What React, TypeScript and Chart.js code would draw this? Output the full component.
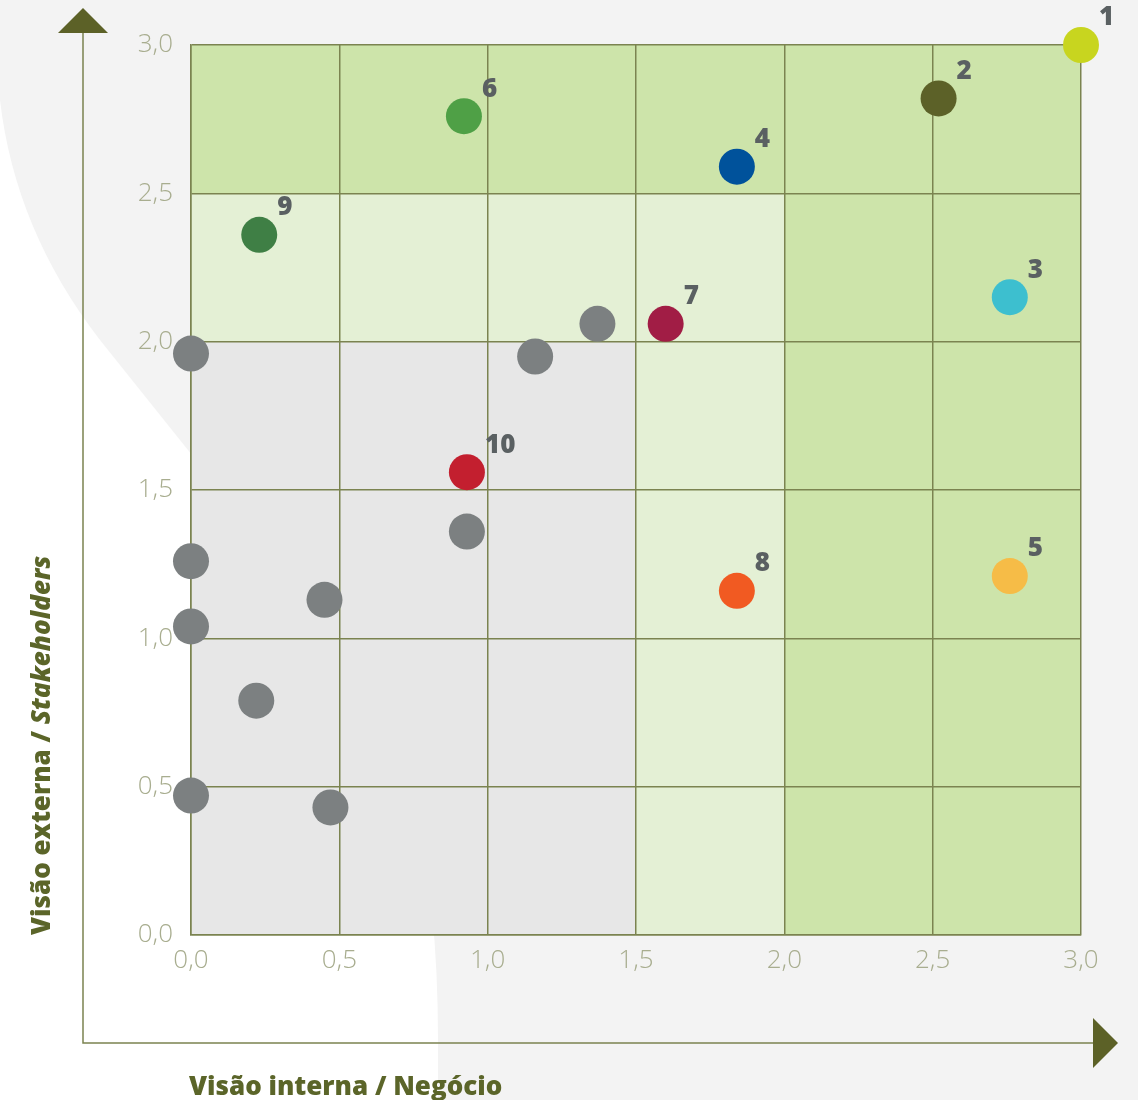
import { useEffect, useRef } from 'react';
import { Chart, registerables } from 'chart.js';

Chart.register(...registerables);

// ---- Data ----
const numberedLabels = ['1', '2', '3', '4', '5', '6', '7', '8', '9', '10'];
const numberedX = [3.0, 2.52, 2.76, 1.84, 2.76, 0.92, 1.6, 1.84, 0.23, 0.93];
const numberedY = [3.0, 2.82, 2.15, 2.59, 1.21, 2.76, 2.06, 1.16, 2.36, 1.56];
const numberedColors = [
  '#c8d51f', '#5c6128', '#3dbfcf', '#00529b', '#f6bc47',
  '#4fa046', '#a11d45', '#f15a22', '#3f7f45', '#c31f2f',
];

const otherX = [0, 1.16, 1.37, 0.93, 0, 0.45, 0, 0.22, 0, 0.47];
const otherY = [1.96, 1.95, 2.06, 1.36, 1.26, 1.13, 1.04, 0.79, 0.47, 0.43];

// Zones (data space), painted in order
const zoneX0 = [0, 0, 0];
const zoneX1 = [3, 2, 1.5];
const zoneY0 = [0, 0, 0];
const zoneY1 = [3, 2.5, 2];
const zoneColors = ['#cde4aa', '#e4f0d5', '#e7e7e7'];

const axisMin = 0;
const axisMax = 3;
const axisStep = 0.5;

const xTitle = 'Visão interna / Negócio';
const yTitleA = 'Visão externa / ';
const yTitleB = 'Stakeholders';

const GRID = '#7b8350';
const OLIVE = '#5c6127';
const TITLE = '#5b6529';
const TITLE_FONT = '"Open Sans", "Noto Sans", sans-serif';

const fmt = (v: number | string) => Number(v).toFixed(1).replace('.', ',');

const decorPlugin = {
  id: 'decor',
  beforeDraw(chart: any) {
    const { ctx, scales } = chart;
    const x = scales.x;
    const y = scales.y;
    ctx.save();
    ctx.fillStyle = '#f3f3f3';
    ctx.fillRect(0, 0, chart.width, chart.height);
    // white swoosh
    ctx.fillStyle = '#ffffff';
    ctx.beginPath();
    ctx.moveTo(0, 100);
    ctx.quadraticCurveTo(15, 230, 100, 340);
    ctx.lineTo(340, 640);
    ctx.quadraticCurveTo(438, 762, 438, 1040);
    ctx.lineTo(438, 1100);
    ctx.lineTo(0, 1100);
    ctx.closePath();
    ctx.fill();
    // zones
    for (let i = 0; i < zoneColors.length; i++) {
      const l = x.getPixelForValue(zoneX0[i]);
      const r = x.getPixelForValue(zoneX1[i]);
      const t = y.getPixelForValue(zoneY1[i]);
      const b = y.getPixelForValue(zoneY0[i]);
      ctx.fillStyle = zoneColors[i];
      ctx.fillRect(l, t, r - l, b - t);
    }
    // axis arrows
    ctx.strokeStyle = GRID;
    ctx.lineWidth = 1.5;
    ctx.beginPath();
    ctx.moveTo(83, 33);
    ctx.lineTo(83, 1043);
    ctx.lineTo(1094, 1043);
    ctx.stroke();
    ctx.fillStyle = OLIVE;
    ctx.beginPath();
    ctx.moveTo(83, 8);
    ctx.lineTo(108, 33);
    ctx.lineTo(58, 33);
    ctx.closePath();
    ctx.fill();
    ctx.beginPath();
    ctx.moveTo(1118, 1043);
    ctx.lineTo(1093, 1018);
    ctx.lineTo(1093, 1068);
    ctx.closePath();
    ctx.fill();
    ctx.restore();
  },
  afterDatasetsDraw(chart: any) {
    const { ctx } = chart;
    const meta = chart.getDatasetMeta(1);
    ctx.save();
    ctx.fillStyle = '#5a6062';
    ctx.font = `800 26px ${TITLE_FONT}`;
    ctx.textAlign = 'left';
    ctx.textBaseline = 'middle';
    meta.data.forEach((pt: any, i: number) => {
      ctx.fillText(numberedLabels[i], pt.x + 18, pt.y - 27);
    });
    ctx.restore();
  },
  afterDraw(chart: any) {
    const { ctx } = chart;
    ctx.save();
    ctx.fillStyle = TITLE;
    ctx.font = `800 26px ${TITLE_FONT}`;
    ctx.textAlign = 'left';
    ctx.textBaseline = 'alphabetic';
    ctx.fillText(xTitle, 189, 1095);
    ctx.translate(50, 935);
    ctx.rotate(-Math.PI / 2);
    ctx.fillText(yTitleA, 0, 0);
    const w = ctx.measureText(yTitleA).width;
    ctx.font = `italic 800 26px ${TITLE_FONT}`;
    ctx.fillText(yTitleB, w, 0);
    ctx.restore();
  },
};

export default function App() {
  const ref = useRef<HTMLCanvasElement>(null);
  useEffect(() => {
    document.body.style.margin = '0';
    const canvas = ref.current;
    if (!canvas) return;
    const tickFont = { family: '"Open Sans", "Noto Sans", sans-serif', size: 26, weight: 300 as any };
    const chart = new Chart(canvas, {
      type: 'scatter',
      data: {
        datasets: [
          {
            label: 'outros',
            data: otherX.map((v, i) => ({ x: v, y: otherY[i] })),
            backgroundColor: '#7c8081',
            pointRadius: 18,
            pointHoverRadius: 18,
            borderWidth: 0,
            clip: false as any,
          },
          {
            label: 'temas',
            data: numberedX.map((v, i) => ({ x: v, y: numberedY[i] })),
            backgroundColor: numberedColors,
            pointRadius: 18,
            pointHoverRadius: 18,
            borderWidth: 0,
            clip: false as any,
          },
        ],
      },
      options: {
        responsive: false,
        maintainAspectRatio: false,
        animation: false,
        events: [],
        layout: { padding: { left: 0, top: 45, right: 57, bottom: 0 } },
        plugins: { legend: { display: false }, tooltip: { enabled: false } },
        scales: {
          x: {
            type: 'linear',
            min: axisMin,
            max: axisMax,
            afterFit: (s: any) => { s.height = 165; },
            ticks: { stepSize: axisStep, callback: (v: any) => fmt(v), color: '#a8ad8f', font: tickFont, padding: 10, maxRotation: 0 },
            grid: { color: GRID, lineWidth: 1.5, drawTicks: false },
            border: { color: GRID, width: 1.5 },
          },
          y: {
            type: 'linear',
            min: axisMin,
            max: axisMax,
            afterFit: (s: any) => { s.width = 191; },
            ticks: { stepSize: axisStep, callback: (v: any) => fmt(v), color: '#a8ad8f', font: tickFont, padding: 18 },
            grid: { color: GRID, lineWidth: 1.5, drawTicks: false },
            border: { color: GRID, width: 1.5 },
          },
        },
      },
      plugins: [decorPlugin],
    });
    return () => chart.destroy();
  }, []);
  return (
    <div style={{ position: 'absolute', left: 0, top: 0, width: 1138, height: 1100 }}>
      <canvas ref={ref} width={1138} height={1100} style={{ display: 'block' }} />
    </div>
  );
}
